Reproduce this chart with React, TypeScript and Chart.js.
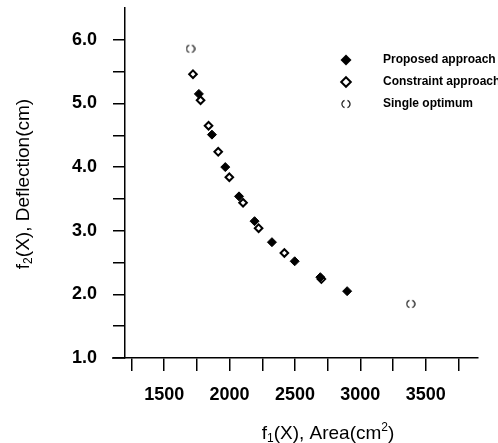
import React, { useEffect, useRef } from "react";
import { Chart, registerables } from "chart.js";

Chart.register(...registerables);

const proposedX = [1765, 1865, 1967, 2072, 2191, 2324, 2498, 2694, 2899];
const proposedY = [5.15, 4.51, 4.0, 3.54, 3.15, 2.82, 2.52, 2.27, 2.05];
const constraintX = [1720, 1778, 1839, 1913, 1998, 2103, 2222, 2419, 2702];
const constraintY = [5.46, 5.05, 4.65, 4.24, 3.84, 3.44, 3.04, 2.65, 2.24];
const singleX = [1701, 3386];
const singleY = [5.86, 1.85];

const xTickValues = [1250, 1500, 1750, 2000, 2250, 2500, 2750, 3000, 3250, 3500, 3750];
const xTickLabels = ["", "1500", "", "2000", "", "2500", "", "3000", "", "3500", ""];
const yTickValues = [1.0, 1.5, 2.0, 2.5, 3.0, 3.5, 4.0, 4.5, 5.0, 5.5, 6.0];
const yTickLabels = ["1.0", "", "2.0", "", "3.0", "", "4.0", "", "5.0", "", "6.0"];

const legendLabels = ["Proposed approach", "Constraint approach", "Single optimum"];

const FONT = "'Liberation Sans', Arial, sans-serif";

function makeParen(): HTMLCanvasElement {
  const c = document.createElement("canvas");
  c.width = 10;
  c.height = 12;
  const ctx = c.getContext("2d")!;
  ctx.strokeStyle = "#222";
  ctx.lineWidth = 1.3;
  ctx.beginPath();
  ctx.arc(5, 6, 4, Math.PI * 0.62, Math.PI * 1.38);
  ctx.stroke();
  ctx.beginPath();
  ctx.arc(5, 6, 4, -Math.PI * 0.38, Math.PI * 0.38);
  ctx.stroke();
  return c;
}

function toPts(xs: number[], ys: number[]) {
  return xs.map((x, i) => ({ x, y: ys[i] }));
}

export default function App() {
  const ref = useRef<HTMLCanvasElement | null>(null);

  useEffect(() => {
    if (!ref.current) return;
    const paren = makeParen();

    const overlay = {
      id: "overlay",
      afterDraw(chart: any) {
        const ctx = chart.ctx as CanvasRenderingContext2D;
        const a = chart.chartArea;
        ctx.save();
        ctx.strokeStyle = "#000";
        ctx.lineWidth = 1.5;
        ctx.beginPath();
        ctx.moveTo(a.left - 13, a.bottom);
        ctx.lineTo(a.left, a.bottom);
        ctx.stroke();

        // legend
        const lx = 346;
        const tx = 383;
        const ys = [60, 82, 104];
        ctx.fillStyle = "#000";
        const d = (cx: number, cy: number, r: number) => {
          ctx.beginPath();
          ctx.moveTo(cx, cy - r);
          ctx.lineTo(cx + r, cy);
          ctx.lineTo(cx, cy + r);
          ctx.lineTo(cx - r, cy);
          ctx.closePath();
        };
        d(lx, ys[0], 5.5);
        ctx.fill();
        d(lx, ys[1], 4.8);
        ctx.lineWidth = 2;
        ctx.strokeStyle = "#000";
        ctx.stroke();
        ctx.drawImage(paren, lx - 5, ys[2] - 6);
        ctx.font = `bold 12px ${FONT}`;
        ctx.textBaseline = "middle";
        ctx.textAlign = "left";
        legendLabels.forEach((t, i) => ctx.fillText(t, tx, ys[i]));

        // x title: f1(X), Area(cm2)
        const big = `19px ${FONT}`;
        const small = `12px ${FONT}`;
        const parts: [string, string, number][] = [
          ["f", big, 0],
          ["1", small, 3],
          ["(X), Area(cm", big, 0],
          ["2", small, -8],
          [")", big, 0],
        ];
        let w = 0;
        parts.forEach(([t, f]) => {
          ctx.font = f;
          w += ctx.measureText(t).width;
        });
        ctx.textBaseline = "alphabetic";
        let x = 328 - w / 2;
        const by = 439;
        parts.forEach(([t, f, dy]) => {
          ctx.font = f;
          ctx.fillText(t, x, by + dy);
          x += ctx.measureText(t).width;
        });

        // y title: f2(X), Deflection(cm)
        const yparts: [string, string, number][] = [
          ["f", big, 0],
          ["2", small, 3],
          ["(X), Deflection(cm)", big, 0],
        ];
        let wy = 0;
        yparts.forEach(([t, f]) => {
          ctx.font = f;
          wy += ctx.measureText(t).width;
        });
        ctx.translate(29, 184);
        ctx.rotate(-Math.PI / 2);
        let yx = -wy / 2;
        yparts.forEach(([t, f, dy]) => {
          ctx.font = f;
          ctx.fillText(t, yx, dy);
          yx += ctx.measureText(t).width;
        });
        ctx.restore();
      },
    };

    const chart = new Chart(ref.current, {
      type: "scatter",
      data: {
        datasets: [
          {
            label: legendLabels[0],
            data: toPts(proposedX, proposedY),
            pointStyle: "rectRot",
            pointRadius: 4.5,
            backgroundColor: "#000",
            borderColor: "#000",
            borderWidth: 1,
          },
          {
            label: legendLabels[1],
            data: toPts(constraintX, constraintY),
            pointStyle: "rectRot",
            pointRadius: 3.8,
            backgroundColor: "#fff",
            borderColor: "#000",
            borderWidth: 2,
          },
          {
            label: legendLabels[2],
            data: toPts(singleX, singleY),
            pointStyle: paren as any,
            pointRadius: 5,
            backgroundColor: "rgba(0,0,0,0)",
            borderColor: "#222",
          },
        ],
      },
      options: {
        responsive: false,
        animation: false,
        layout: { padding: { left: 0, right: 20, top: 8, bottom: 0 } },
        plugins: { legend: { display: false }, tooltip: { enabled: false } },
        scales: {
          x: {
            type: "linear",
            min: 1200,
            max: 3900,
            afterBuildTicks: (s: any) => {
              s.ticks = xTickValues.map((v) => ({ value: v }));
            },
            afterFit: (s: any) => {
              s.height = 85;
              s.paddingLeft = 0;
              s.paddingRight = 0;
            },
            grid: {
              drawOnChartArea: false,
              drawTicks: true,
              tickLength: 13,
              color: "#000",
              lineWidth: 1.5,
            },
            border: { display: true, color: "#000", width: 1.5 },
            ticks: {
              autoSkip: false,
              maxRotation: 0,
              padding: 13,
              color: "#000",
              font: { family: FONT, size: 18, weight: "bold" },
              callback: (v: any) => xTickLabels[xTickValues.indexOf(Number(v))] ?? "",
            },
          },
          y: {
            type: "linear",
            min: 1.0,
            max: 6.5,
            afterBuildTicks: (s: any) => {
              s.ticks = yTickValues.map((v) => ({ value: v }));
            },
            afterFit: (s: any) => {
              s.width = 125;
              s.paddingTop = 0;
              s.paddingBottom = 0;
            },
            grid: {
              drawOnChartArea: false,
              drawTicks: true,
              tickLength: 12,
              color: "#000",
              lineWidth: 1.5,
            },
            border: { display: true, color: "#000", width: 1.5 },
            ticks: {
              autoSkip: false,
              padding: 16,
              color: "#000",
              font: { family: FONT, size: 18, weight: "bold" },
              callback: (v: any) => {
                const i = yTickValues.findIndex((t) => Math.abs(t - Number(v)) < 1e-6);
                return i >= 0 ? yTickLabels[i] : "";
              },
            },
          },
        },
      },
      plugins: [overlay],
    });
    return () => chart.destroy();
  }, []);

  return (
    <div style={{ position: "absolute", left: 0, top: 0, width: 498, height: 443, background: "#fff" }}>
      <canvas ref={ref} width={498} height={443} />
    </div>
  );
}
